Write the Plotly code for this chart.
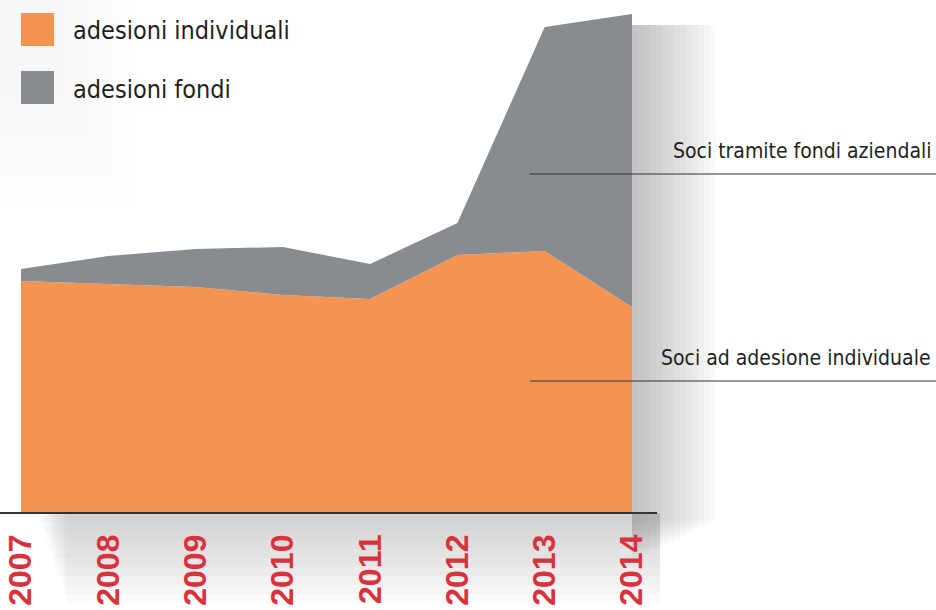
import plotly.graph_objects as go

years = [2007, 2008, 2009, 2010, 2011, 2012, 2013, 2014]
adesioni_individuali = [2310, 2280, 2250, 2170, 2130, 2570, 2610, 2050]
adesioni_fondi = [120, 280, 380, 480, 350, 320, 2240, 2930]

ORANGE = "#f59450"
GREY = "#888b90"
RED = "#d9323d"
TEXT = "#231f20"
COND = "DejaVu Sans Condensed, Liberation Sans Narrow, Roboto Condensed, sans-serif"

W, H = 936, 610
PLOT_W, PLOT_H = 657, 512


def px(x):
    return x / PLOT_W


def py(y):
    return (PLOT_H - y) / PLOT_H


fig = go.Figure()
fig.add_trace(go.Scatter(x=years, y=adesioni_individuali, stackgroup="a", mode="none",
                         fillcolor=ORANGE, name="adesioni individuali"))
fig.add_trace(go.Scatter(x=years, y=adesioni_fondi, stackgroup="a", mode="none",
                         fillcolor=GREY, name="adesioni fondi"))

shapes = []
# soft shadow right of the area
for k in range(14):
    shapes.append(dict(type="rect", xref="paper", yref="paper", layer="below",
                       x0=px(632), x1=px(632 + 6 * (k + 1)), y0=py(25), y1=py(560 - 3 * k),
                       fillcolor="#7d8085", opacity=0.04, line_width=0))
# soft shadow under the axis
for k in range(10):
    shapes.append(dict(type="rect", xref="paper", yref="paper", layer="below",
                       x0=px(40 + 3 * k), x1=px(660), y0=py(513), y1=py(513 + 9 * (k + 1)),
                       fillcolor="#8a8d92", opacity=0.045, line_width=0))
# faint haze behind the legend
for k in range(8):
    shapes.append(dict(type="rect", xref="paper", yref="paper", layer="below",
                       x0=px(0), x1=px(140 - 12 * k), y0=py(0), y1=py(210 - 18 * k),
                       fillcolor="#9a9da1", opacity=0.012, line_width=0))
# legend swatches
shapes.append(dict(type="rect", xref="paper", yref="paper", x0=px(21), x1=px(54),
                   y0=py(13), y1=py(46), fillcolor=ORANGE, line_width=0))
shapes.append(dict(type="rect", xref="paper", yref="paper", x0=px(21), x1=px(54),
                   y0=py(71), y1=py(104), fillcolor=GREY, line_width=0))
# callout lines
for yl in (174, 381):
    shapes.append(dict(type="line", xref="paper", yref="paper", x0=px(530), x1=px(936),
                       y0=py(yl), y1=py(yl), line=dict(color="#333333", width=1)))

annotations = [
    dict(text="adesioni individuali", x=px(71), y=py(30), xanchor="left", yanchor="middle", size=25),
    dict(text="adesioni fondi", x=px(71), y=py(89), xanchor="left", yanchor="middle", size=25),
    dict(text="Soci tramite fondi aziendali", x=px(933), y=py(151), xanchor="right", yanchor="middle", size=21),
    dict(text="Soci ad adesione individuale", x=px(933), y=py(358), xanchor="right", yanchor="middle", size=21),
]
for a in annotations:
    s = a.pop("size")
    a.update(xref="paper", yref="paper", showarrow=False, font=dict(family=COND, size=s, color=TEXT))

fig.update_layout(
    width=W, height=H,
    margin=dict(l=0, r=W - PLOT_W, t=0, b=H - PLOT_H, autoexpand=False),
    paper_bgcolor="white", plot_bgcolor="rgba(0,0,0,0)",
    showlegend=False,
    shapes=shapes,
    annotations=annotations,
)
fig.update_xaxes(range=[2007 - 21 / 87.2, 2014 + 25 / 87.2], tickvals=years,
                 ticktext=[str(y) for y in years], tickangle=-90, automargin=False,
                 tickfont=dict(family="Liberation Sans, Arial, sans-serif", size=32, color=RED, weight="bold"),
                 showline=True, linecolor="#333333", linewidth=1.5, showgrid=False, zeroline=False,
                 ticks="", ticklabelstandoff=8)
fig.update_yaxes(range=[0, 5120], visible=False, showgrid=False, zeroline=False, automargin=False)

fig.write_html("out.html", config={"displayModeBar": False},
               post_script="document.body.style.margin='0px';")
